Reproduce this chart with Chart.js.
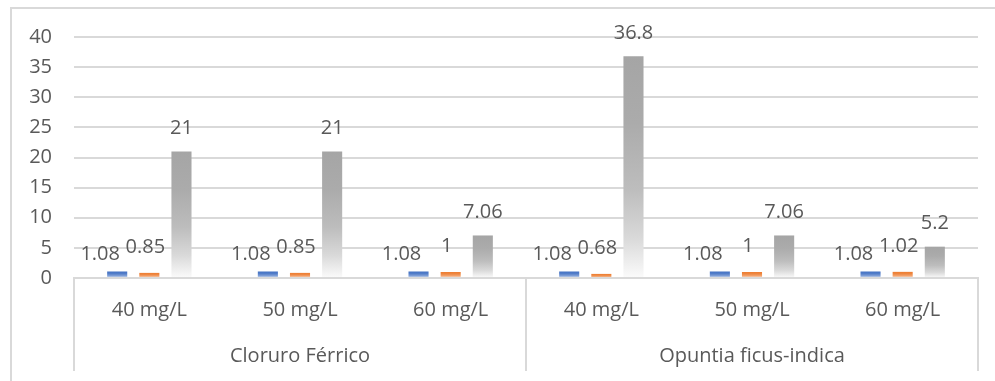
<!DOCTYPE html>
<html>
<head>
<meta charset="utf-8">
<script src="https://cdn.jsdelivr.net/npm/chart.js@4/dist/chart.umd.min.js"></script>
<style>
  html, body { margin: 0; padding: 0; background: #ffffff; overflow: hidden; }
  #frame { position: absolute; left: 10px; top: 7px; width: 1000px; height: 400px; border: 2px solid #d9d9d9; box-sizing: border-box; }
  #wrap { position: absolute; left: 0; top: 0; width: 995px; height: 381px; }
</style>
</head>
<body>
<div id="frame"></div>
<div id="wrap"><canvas id="c" width="995" height="381"></canvas></div>
<script>
// ---- data ----
const groups = ["Cloruro Férrico", "Opuntia ficus-indica"];
const concentrations = ["40 mg/L", "50 mg/L", "60 mg/L", "40 mg/L", "50 mg/L", "60 mg/L"];
const seriesA = [1.08, 1.08, 1.08, 1.08, 1.08, 1.08];
const seriesB = [0.85, 0.85, 1, 0.68, 1, 1.02];
const seriesC = [21, 21, 7.06, 36.8, 7.06, 5.2];
const yTicks = [0, 5, 10, 15, 20, 25, 30, 35, 40];

const FONT = "'Open Sans', 'DejaVu Sans', sans-serif";
const TEXT = "#595959";
const GRID = "#d9d9d9";

function mix(hex, t) {
  const n = parseInt(hex.slice(1), 16);
  const r = (n >> 16) & 255, g = (n >> 8) & 255, b = n & 255;
  const f = c => Math.round(c + (255 - c) * t);
  return `rgb(${f(r)},${f(g)},${f(b)})`;
}
function gradFill(color) {
  return (ctx) => {
    if (ctx.type !== 'data') return color;
    const chart = ctx.chart;
    const ys = chart.scales && chart.scales.y;
    if (!ys || !chart.chartArea) return color;
    const top = ys.getPixelForValue(ctx.raw);
    const base = ys.getPixelForValue(0);
    if (!isFinite(top) || !isFinite(base) || top === base) return color;
    const g = chart.ctx.createLinearGradient(0, top, 0, base);
    g.addColorStop(0, mix(color, 0));
    g.addColorStop(0.3, mix(color, 0.07));
    g.addColorStop(0.6, mix(color, 0.27));
    g.addColorStop(0.82, mix(color, 0.58));
    g.addColorStop(1, mix(color, 0.95));
    return g;
  };
}

// label offsets per dataset (style only)
const labelShift = [{dx: -17, dy: 17}, {dx: -4, dy: 26}, {dx: 0, dy: 23}];

const labelPlugin = {
  id: 'valueLabels',
  afterDatasetsDraw(chart) {
    const ctx = chart.ctx;
    ctx.save();
    ctx.font = `20px ${FONT}`;
    ctx.fillStyle = TEXT;
    ctx.textAlign = 'center';
    ctx.textBaseline = 'middle';
    chart.data.datasets.forEach((ds, i) => {
      const meta = chart.getDatasetMeta(i);
      meta.data.forEach((el, j) => {
        const s = labelShift[i];
        ctx.fillText(String(ds.data[j]), el.x + s.dx, el.y - s.dy);
      });
    });
    ctx.restore();
  }
};

const sepPlugin = {
  id: 'separators',
  afterDraw(chart) {
    const x = chart.scales.x;
    const ctx = chart.ctx;
    const mid = (x.getPixelForValue(2) + x.getPixelForValue(3)) / 2;
    ctx.save();
    ctx.strokeStyle = GRID;
    ctx.lineWidth = 2;
    [x.left, mid, x.right].forEach(px => {
      ctx.beginPath();
      ctx.moveTo(px, x.top);
      ctx.lineTo(px, x.top + 93);
      ctx.stroke();
    });
    ctx.restore();
  }
};

new Chart(document.getElementById('c'), {
  type: 'bar',
  data: {
    labels: concentrations,
    datasets: [
      { label: 'A', data: seriesA, backgroundColor: gradFill('#4472C4') },
      { label: 'B', data: seriesB, backgroundColor: gradFill('#ED7D31') },
      { label: 'C', data: seriesC, backgroundColor: gradFill('#A5A5A5') }
    ]
  },
  options: {
    responsive: false,
    animation: false,
    devicePixelRatio: 1,
    layout: { padding: { top: 37, right: 17, bottom: 10, left: 0 } },
    datasets: { bar: { categoryPercentage: 0.64, barPercentage: 0.625 } },
    plugins: { legend: { display: false }, tooltip: { enabled: false } },
    scales: {
      y: {
        min: 0, max: 40,
        afterBuildTicks: (s) => { s.ticks = yTicks.map(v => ({ value: v })); },
        afterFit: (s) => { s.width = 74; },
        grid: { color: GRID, lineWidth: 2, drawTicks: false },
        border: { display: false },
        ticks: { padding: 22, color: TEXT, font: { family: FONT, size: 20 } }
      },
      x: {
        afterFit: (s) => { s.height = 50; },
        grid: { display: false },
        border: { display: true, color: GRID, width: 2 },
        ticks: { padding: 12, color: TEXT, font: { family: FONT, size: 20 }, maxRotation: 0, autoSkip: false }
      },
      x2: {
        type: 'category',
        position: 'bottom',
        labels: groups,
        afterFit: (s) => { s.height = 43; },
        grid: { display: false },
        border: { display: false },
        ticks: { padding: 8, color: TEXT, font: { family: FONT, size: 20 }, maxRotation: 0 }
      }
    }
  },
  plugins: [labelPlugin, sepPlugin]
});
</script>
</body>
</html>
